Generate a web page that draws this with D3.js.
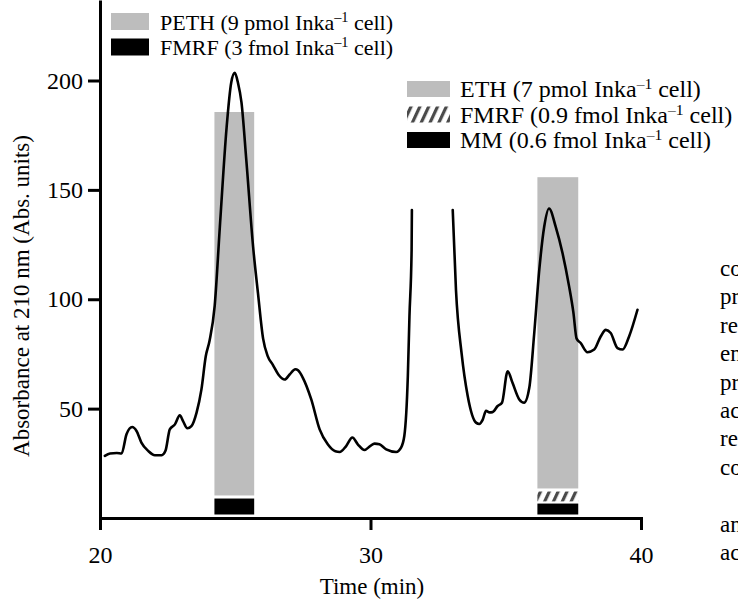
<!DOCTYPE html>
<html>
<head>
<meta charset="utf-8">
<script src="https://cdn.jsdelivr.net/npm/d3@7"></script>
<style>
  html, body { margin: 0; padding: 0; background: #fff; }
  svg text { font-family: "Liberation Serif", "Times New Roman", serif; fill: #000; }
</style>
</head>
<body>
<svg id="chart" width="738" height="600"></svg>
<script>
// ---- data ----
// trace before the off-scale peak (time in min, absorbance)
const trace1Time = [20.18, 20.37, 20.62, 20.8, 20.98, 21.19, 21.35, 21.53, 21.78, 22.03, 22.28, 22.42, 22.58, 22.77, 22.95, 23.07, 23.23, 23.38, 23.57, 23.75, 23.91, 24.05, 24.24, 24.43, 24.68, 24.85, 24.98, 25.1, 25.23, 25.41, 25.66, 25.84, 26.03, 26.2, 26.39, 26.6, 26.83, 27.01, 27.22, 27.32, 27.5, 27.81, 28.12, 28.42, 28.7, 28.86, 29.1, 29.33, 29.53, 29.78, 30.0, 30.15, 30.33, 30.58, 30.95, 31.13, 31.25, 31.38, 31.44, 31.52, 31.53];
const trace1Abs  = [28.4, 29.5, 29.7, 29.5, 38.3, 41.6, 39.8, 34.5, 30.7, 28.7, 28.7, 30.7, 40.5, 42.8, 46.9, 44.3, 41.0, 42.0, 48.2, 58.8, 73.9, 81.0, 97.0, 133.0, 178.5, 199.0, 203.5, 199.0, 190.0, 163.5, 124.0, 102.8, 82.0, 74.0, 70.0, 65.5, 63.3, 65.6, 68.0, 67.5, 64.1, 54.2, 40.5, 33.7, 30.5, 30.2, 32.9, 36.8, 33.7, 31.1, 33.0, 34.0, 33.7, 31.4, 30.2, 32.2, 37.5, 64.8, 92.2, 122.5, 140.8];
// trace after the off-scale peak
const trace2Time = [33.04, 33.16, 33.37, 33.59, 33.9, 34.02, 34.15, 34.27, 34.4, 34.51, 34.7, 34.86, 35.07, 35.25, 35.5, 35.68, 35.87, 36.05, 36.24, 36.42, 36.6, 36.85, 37.1, 37.34, 37.5, 37.62, 37.77, 38.02, 38.27, 38.51, 38.7, 38.88, 39.13, 39.32, 39.56, 39.87];
const trace2Abs  = [140.8, 104.2, 75.0, 56.0, 43.6, 43.0, 45.0, 49.0, 48.3, 48.4, 51.2, 52.7, 67.1, 61.8, 54.2, 52.7, 59.5, 84.0, 113.5, 133.0, 141.5, 133.0, 121.0, 106.0, 94.0, 82.0, 80.0, 75.8, 77.0, 83.0, 86.0, 84.6, 77.7, 77.0, 83.0, 95.2];

// fraction bars (times in min, absorbance units)
const barStart   = [24.23, 36.17];
const barEnd     = [25.70, 37.68];
const grayLow    = [10.3, 13.5];
const grayHigh   = [185.6, 155.8];
const hatchLow   = [null, 7.6];
const hatchHigh  = [null, 12.1];
const blackLow   = [1.6, 1.6];
const blackHigh  = [8.9, 6.6];

const xTicks = [20, 30, 40];
const yTicks = [50, 100, 150, 200];
const xTitle = "Time (min)";
const yTitle = "Absorbance at 210 nm (Abs. units)";

const legend1Names  = ["PETH (9 pmol Inka", "FMRF (3 fmol Inka"];
const legend1Fills  = ["gray", "black"];
const legend2Names  = ["ETH (7 pmol Inka", "FMRF (0.9 fmol Inka", "MM (0.6 fmol Inka"];
const legend2Fills  = ["gray", "hatch", "black"];
const legendSup = "\u20131";
const legendTail = " cell)";

const sideText = ["co", "pr", "re", "en", "pr", "ac", "re", "co", "", "an", "ac"];

// ---- drawing ----
const svg = d3.select("#chart");
const GRAY = "#bdbdbd";

const defs = svg.append("defs");
const pat = defs.append("pattern")
  .attr("id", "hatch").attr("patternUnits", "userSpaceOnUse")
  .attr("width", 8).attr("height", 8)
  .attr("patternTransform", "rotate(25)");
pat.append("rect").attr("width", 8).attr("height", 8).attr("fill", "#fff");
pat.append("rect").attr("x", 0).attr("y", 0).attr("width", 3.2).attr("height", 8).attr("fill", "#4a4a4a");

function fillOf(k) { return k === "gray" ? GRAY : k === "hatch" ? "url(#hatch)" : "#000"; }

const x = d3.scaleLinear().domain([20, 40]).range([100, 641]);
const y = d3.scaleLinear().domain([0, 200]).range([518, 80.5]);

// bars
const idx = d3.range(barStart.length);
const gBars = svg.append("g");
function drawBars(low, high, fill) {
  gBars.selectAll(null).data(idx.filter(i => low[i] != null)).enter().append("rect")
    .attr("x", i => x(barStart[i]))
    .attr("width", i => x(barEnd[i]) - x(barStart[i]))
    .attr("y", i => y(high[i]))
    .attr("height", i => y(low[i]) - y(high[i]))
    .attr("fill", fill);
}
drawBars(grayLow, grayHigh, GRAY);
drawBars(hatchLow, hatchHigh, "url(#hatch)");
drawBars(blackLow, blackHigh, "#000");

// traces
const line = d3.line().x(d => x(d[0])).y(d => y(d[1])).curve(d3.curveMonotoneX);
[[trace1Time, trace1Abs], [trace2Time, trace2Abs]].forEach(([t, a]) => {
  svg.append("path")
    .datum(t.map((v, i) => [v, a[i]]))
    .attr("d", line)
    .attr("fill", "none").attr("stroke", "#000")
    .attr("stroke-width", 2.6).attr("stroke-linejoin", "round").attr("stroke-linecap", "round");
});

// axes
const yAxisScale = y.copy().domain([y.invert(518), y.invert(0)]).range([518, 0]);
const gy = svg.append("g").attr("transform", "translate(100,0)")
  .call(d3.axisLeft(yAxisScale).tickValues(yTicks).tickSize(12).tickSizeOuter(0).tickPadding(5));
const gx = svg.append("g").attr("transform", "translate(0,518)")
  .call(d3.axisBottom(x).tickValues(xTicks).tickSize(12).tickSizeOuter(0).tickPadding(16));
[gx, gy].forEach(g => {
  g.select(".domain").attr("stroke-width", 3).attr("stroke", "#000");
  g.selectAll(".tick line").attr("stroke-width", 3).attr("stroke", "#000");
  g.selectAll(".tick text").attr("font-family", "Liberation Serif").attr("font-size", 24).attr("fill", "#000");
});
gx.select(".domain").attr("stroke-linecap", "square");

svg.append("text").attr("x", 372).attr("y", 594).attr("text-anchor", "middle")
  .attr("font-size", 23).text(xTitle);
svg.append("text").attr("transform", "translate(29,296) rotate(-90)").attr("text-anchor", "middle")
  .attr("font-size", 23).text(yTitle);

// legends
function legend(names, fills, sx, sw, sh, tops, tx, baselines, fs) {
  names.forEach((n, i) => {
    svg.append("rect").attr("x", sx).attr("y", tops[i]).attr("width", sw).attr("height", sh)
      .attr("fill", fillOf(fills[i]));
    const t = svg.append("text").attr("x", tx).attr("y", baselines[i]).attr("font-size", fs);
    t.append("tspan").text(n);
    t.append("tspan").attr("font-size", fs * 0.65).attr("dy", -fs * 0.33).text(legendSup);
    t.append("tspan").attr("dy", fs * 0.33).text(legendTail);
  });
}
legend(legend1Names, legend1Fills, 111, 38, 17, [13, 38.5], 160, [29.5, 54.5], 22);
legend(legend2Names, legend2Fills, 407, 43, 16, [81, 106.5, 132], 460, [97, 122.5, 147.5], 24);

// body-text fragments at the right edge
svg.append("g").selectAll("text").data(sideText).enter().append("text")
  .attr("x", 720).attr("y", (d, i) => 276 + i * 28.4)
  .attr("font-size", 23).text(d => d);
</script>
</body>
</html>
